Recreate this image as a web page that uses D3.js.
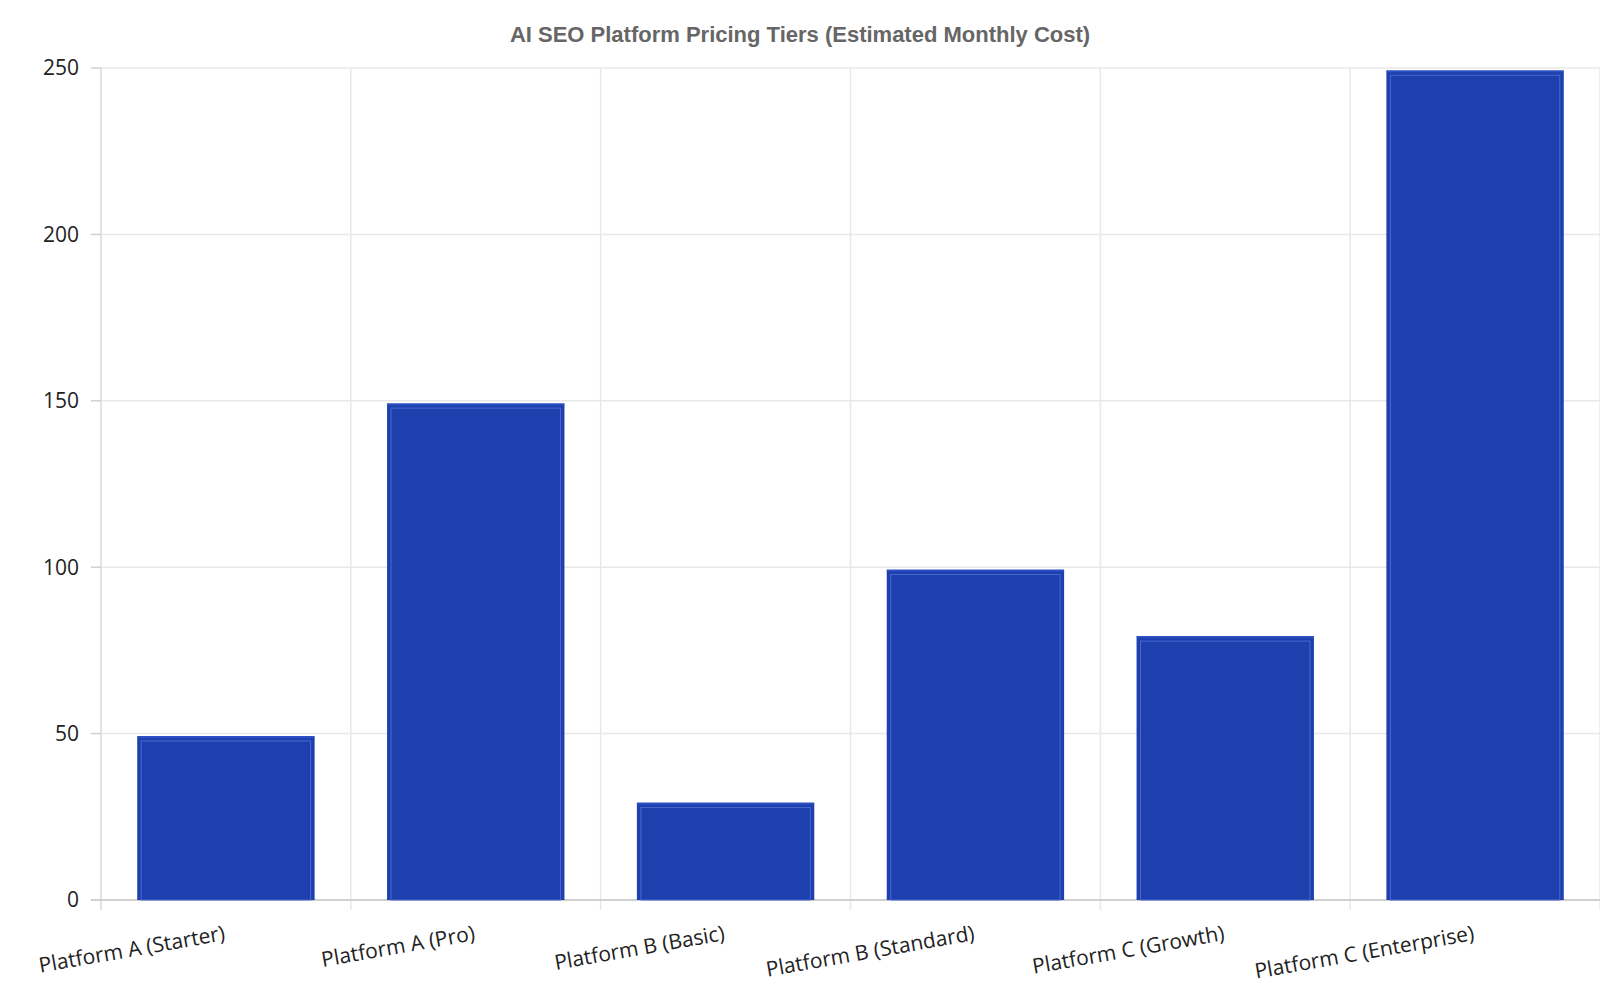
<!DOCTYPE html><html><head><script src="https://cdn.jsdelivr.net/npm/d3@7"></script>
<style>body{margin:0;background:#fff}</style></head><body><svg id="c" width="1600" height="1000"></svg>
<script>
const categories=["Platform A (Starter)","Platform A (Pro)","Platform B (Basic)","Platform B (Standard)","Platform C (Growth)","Platform C (Enterprise)"];
const values=[49,149,29,99,79,249];
const yTicks=[0,50,100,150,200,250];
const svg=d3.select("#c");
const m={l:101,r:1600,t:68,b:900};
const x=d3.scaleBand().domain(categories).range([m.l,m.r]).paddingInner(0.29).paddingOuter(0.145);
const xe=d3.scaleLinear().domain([0,6]).range([m.l,m.r]);
const y=d3.scaleLinear().domain([0,250]).range([m.b,m.t]);
const g=svg.append("g");
g.selectAll(".hg").data(yTicks).join("line").attr("x1",m.l).attr("x2",m.r).attr("y1",d=>y(d)).attr("y2",d=>y(d)).attr("stroke","#e8e8e8").attr("stroke-width",1.5);
g.selectAll(".vg").data(d3.range(7)).join("line").attr("x1",d=>xe(d)).attr("x2",d=>xe(d)).attr("y1",m.t).attr("y2",m.b+10).attr("stroke",(d,i)=>i==0?"#d8d8d8":"#e8e8e8").attr("stroke-width",1.5);
g.append("line").attr("x1",m.l-10).attr("x2",m.r).attr("y1",m.b).attr("y2",m.b).attr("stroke","#d0d0d0").attr("stroke-width",2);
g.selectAll(".yt").data(yTicks).join("line").attr("x1",m.l-10).attr("x2",m.l).attr("y1",d=>y(d)).attr("y2",d=>y(d)).attr("stroke","#d0d0d0").attr("stroke-width",1.5);
g.selectAll(".bar").data(values).join("rect").attr("x",(d,i)=>x(categories[i])).attr("width",x.bandwidth()).attr("y",d=>y(d)).attr("height",d=>y(0)-y(d)).attr("fill","#1e40af");
g.selectAll(".bari").data(values).join("rect").attr("x",(d,i)=>x(categories[i])+4).attr("width",x.bandwidth()-8).attr("y",d=>y(d)+4).attr("height",d=>y(0)-y(d)-4).attr("fill","none").attr("stroke","#4a67cc").attr("stroke-width",1);
g.selectAll(".bt").data(values).join("line").attr("x1",(d,i)=>x(categories[i])).attr("x2",(d,i)=>x(categories[i])+x.bandwidth()).attr("y1",d=>y(d)).attr("y2",d=>y(d)).attr("stroke","#2d4fc4").attr("stroke-width",2);
g.selectAll(".yl").data(yTicks).join("text").attr("x",m.l-22).attr("y",d=>y(d)).attr("dy","0.35em").attr("text-anchor","end").attr("font-family","Open Sans").attr("font-size",21).attr("fill","#222").text(d=>d);
g.selectAll(".xl").data(categories).join("text").attr("text-anchor","end").attr("font-family","Open Sans").attr("font-size",21).attr("fill","#222")
 .attr("transform",d=>`translate(${x(d)+x.bandwidth()/2},${m.b+40}) rotate(-10)`).text(d=>d);
svg.append("text").attr("x",800).attr("y",42).attr("text-anchor","middle").attr("font-family","Liberation Sans, Arial").attr("font-weight","bold").attr("font-size",22).attr("fill","#666").text("AI SEO Platform Pricing Tiers (Estimated Monthly Cost)");
</script></body></html>
